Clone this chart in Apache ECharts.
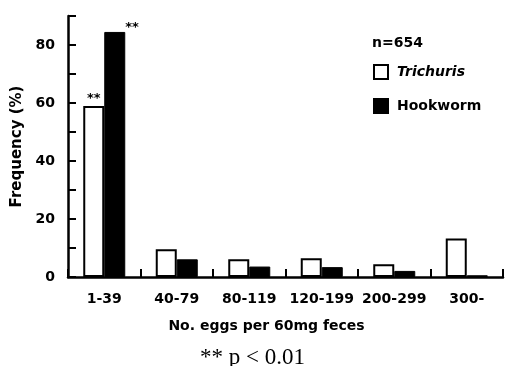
<!DOCTYPE html>
<html>
<head>
<meta charset="utf-8">
<script src="https://cdn.jsdelivr.net/npm/echarts@6/dist/echarts.min.js"></script>
<style>html,body{margin:0;padding:0;background:#fff}#c{width:505px;height:366px}</style>
</head>
<body>
<div id="c"></div>
<script>
var categories = ['1-39', '40-79', '80-119', '120-199', '200-299', '300-'];
var trichuris = [59, 9.6, 6.1, 6.5, 4.4, 13.3];
var hookworm = [84.5, 6.1, 3.6, 3.4, 2.1, 0.6];
var yTicks = [0, 20, 40, 60, 80];

var F = 'DejaVu Sans';
var chart = echarts.init(document.getElementById('c'), null, {renderer: 'canvas'});

function withStars(arr, labelCfg) {
  return arr.map(function (v, i) {
    if (i === 0) return {value: v, label: labelCfg};
    return v;
  });
}

chart.setOption({
  animation: false,
  backgroundColor: '#fff',
  grid: {left: 68, right: 2, top: 16, bottom: 89, containLabel: false},
  legend: {
    orient: 'vertical', left: 368, top: 59, itemWidth: 14, itemHeight: 14, itemGap: 18,
    icon: 'rect',
    textStyle: {fontFamily: F, fontSize: 14, fontWeight: 'bold', color: '#000', padding: [0, 0, 0, 4]},
    data: [
      {name: 'Trichuris', textStyle: {fontStyle: 'italic', fontWeight: 'bold'}},
      {name: 'Hookworm'}
    ]
  },
  graphic: [
    {type: 'text', left: 372, top: 36, style: {text: 'n=654', font: 'bold 14px "DejaVu Sans"', fill: '#000'}},
    {type: 'text', left: 'center', top: 346, x: -12, style: {text: '** p < 0.01', font: '23px "Liberation Serif"', fill: '#000'}}
  ],
  xAxis: {
    type: 'category', data: categories,
    name: 'No. eggs per 60mg feces', nameLocation: 'middle', nameGap: 42,
    nameTextStyle: {fontFamily: F, fontSize: 14, fontWeight: 'bold', color: '#000', padding: [0, 38, 0, 0]},
    axisLine: {lineStyle: {color: '#000', width: 2.5}},
    axisTick: {show: true, interval: 0, inside: true, length: 8, lineStyle: {color: '#000', width: 2}},
    axisLabel: {interval: 0, fontFamily: F, fontSize: 14, fontWeight: 'bold', color: '#000', margin: 15}
  },
  yAxis: {
    type: 'value', min: 0, max: 90, interval: 10,
    name: 'Frequency (%)', nameLocation: 'middle', nameGap: 43,
    nameTextStyle: {fontFamily: F, fontSize: 15, fontWeight: 'bold', color: '#000'},
    axisLine: {show: true, lineStyle: {color: '#000', width: 2.5}},
    axisTick: {show: true, inside: true, length: 8, lineStyle: {color: '#000', width: 2}},
    splitLine: {show: false},
    axisLabel: {
      fontFamily: F, fontSize: 14, fontWeight: 'bold', color: '#000', margin: 13,
      formatter: function (v) { return yTicks.indexOf(v) >= 0 ? String(v) : ''; }
    }
  },
  series: [
    {
      name: 'Trichuris', type: 'bar', barWidth: 21, barGap: '0%',
      itemStyle: {color: '#fff', borderColor: '#000', borderWidth: 2},
      data: withStars(trichuris, {show: true, position: 'top', distance: 1, formatter: '**',
        fontFamily: F, fontSize: 13, fontWeight: 'bold', color: '#000'})
    },
    {
      name: 'Hookworm', type: 'bar', barWidth: 21,
      itemStyle: {color: '#000', borderColor: '#000', borderWidth: 1},
      data: withStars(hookworm, {show: true, position: ['100%', -11], align: 'left', formatter: '**',
        fontFamily: F, fontSize: 13, fontWeight: 'bold', color: '#000'})
    }
  ]
});
</script>
</body>
</html>
